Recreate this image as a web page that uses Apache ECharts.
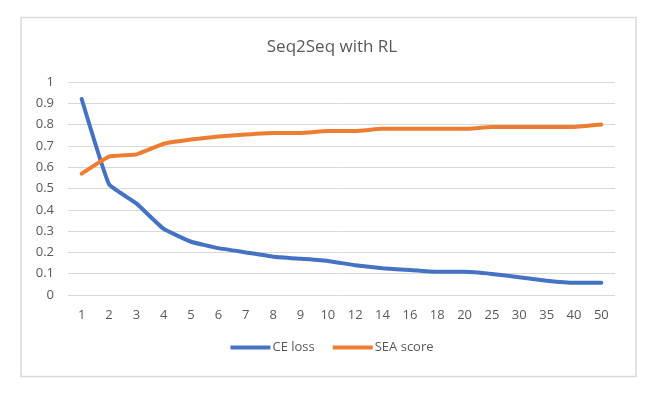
<!DOCTYPE html>
<html>
<head>
<meta charset="utf-8">
<script src="https://cdn.jsdelivr.net/npm/echarts@6/dist/echarts.min.js"></script>
<style>
html,body{margin:0;padding:0;background:#fff;}
#c{width:664px;height:395px;}
</style>
</head>
<body>
<div id="c"></div>
<script>
var categories = ['1','2','3','4','5','6','7','8','9','10','12','14','16','18','20','25','30','35','40','50'];
var ceLoss = [0.92,0.52,0.43,0.31,0.25,0.22,0.20,0.18,0.17,0.16,0.14,0.126,0.117,0.109,0.109,0.099,0.083,0.067,0.057,0.057];
var seaScore = [0.57,0.65,0.66,0.71,0.73,0.744,0.753,0.76,0.76,0.77,0.77,0.78,0.78,0.78,0.78,0.789,0.789,0.789,0.789,0.80];
var yTicks = [0,0.1,0.2,0.3,0.4,0.5,0.6,0.7,0.8,0.9,1];

var FONT = '"Open Sans", "Liberation Sans", sans-serif';
var chart = echarts.init(document.getElementById('c'), null, {renderer:'canvas'});
chart.setOption({
  backgroundColor:'#ffffff',
  animation:false,
  textStyle:{fontFamily:FONT,color:'#595959'},
  graphic:[{
    type:'rect',
    shape:{x:21,y:17.5,width:615,height:359},
    style:{fill:'none',stroke:'#d9d9d9',lineWidth:1.5},
    silent:true
  }],
  title:{
    text:'Seq2Seq with RL',
    left:'center',
    top:34,
    textStyle:{fontFamily:FONT,fontSize:17,fontWeight:'normal',color:'#595959'}
  },
  legend:{
    bottom:36,
    left:'center',
    icon:'rect',
    itemWidth:40,
    itemHeight:4,
    itemGap:18,
    textStyle:{fontFamily:FONT,fontSize:13,color:'#595959',padding:[0,0,0,-3]},
    data:['CE loss','SEA score']
  },
  grid:{left:68,right:49,top:82,bottom:100,containLabel:false},
  xAxis:{
    type:'category',
    data:categories,
    boundaryGap:true,
    axisLine:{show:false},
    axisTick:{show:false},
    axisLabel:{fontFamily:FONT,fontSize:13,color:'#595959',margin:14}
  },
  yAxis:{
    type:'value',
    min:0,max:1,interval:0.1,
    axisLine:{show:false},
    axisTick:{show:false},
    splitLine:{lineStyle:{color:'#d9d9d9',width:1}},
    axisLabel:{fontFamily:FONT,fontSize:13,color:'#595959',margin:14,
      formatter:function(v){ var t = yTicks.reduce(function(a,b){return Math.abs(b-v)<Math.abs(a-v)?b:a;}); return String(t);} }
  },
  series:[
    {name:'CE loss',type:'line',data:ceLoss,smooth:0.1,symbol:'none',
     lineStyle:{color:'#4472C4',width:4,cap:'round',join:'round'},itemStyle:{color:'#4472C4'}},
    {name:'SEA score',type:'line',data:seaScore,smooth:0.1,symbol:'none',
     lineStyle:{color:'#ED7D31',width:4,cap:'round',join:'round'},itemStyle:{color:'#ED7D31'}}
  ]
});
</script>
</body>
</html>
